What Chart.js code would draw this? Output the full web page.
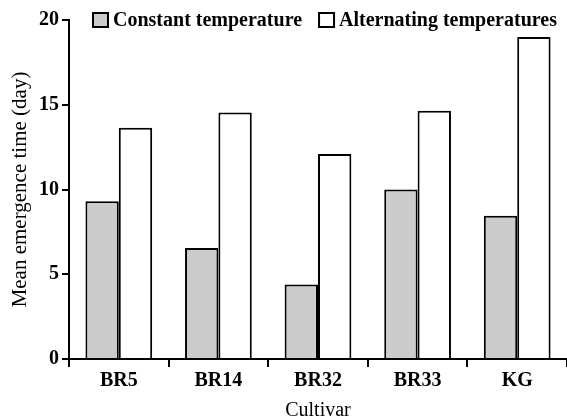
<!DOCTYPE html>
<html><head><meta charset="utf-8">
<script src="https://cdn.jsdelivr.net/npm/chart.js@4.4.0/dist/chart.umd.min.js"></script>
<style>html,body{margin:0;padding:0;background:#fff}</style>
</head><body>
<canvas id="c" width="567" height="419"></canvas>
<script>
const categories = ['BR5', 'BR14', 'BR32', 'BR33', 'KG'];
const seriesNames = ['Constant temperature', 'Alternating temperatures'];
const constantTemp = [9.3, 6.55, 4.4, 10.0, 8.45];
const alternatingTemp = [13.65, 14.55, 12.1, 14.65, 19.0];
const yTickValues = [0, 5, 10, 15, 20];

const FONT = 'Liberation Serif';

const legendPlugin = {
  id: 'customLegend',
  afterDraw(chart) {
    const ctx = chart.ctx;
    ctx.save();
    ctx.font = 'bold 20px "' + FONT + '"';
    ctx.textBaseline = 'middle';
    let x = 93; const y = 20;
    chart.data.datasets.forEach(ds => {
      ctx.fillStyle = ds.backgroundColor;
      ctx.fillRect(x, y - 7, 15, 14);
      ctx.lineWidth = 2; ctx.strokeStyle = '#000';
      ctx.strokeRect(x, y - 7, 15, 14);
      ctx.fillStyle = '#000';
      ctx.fillText(ds.label, x + 20, y + 1);
      x += 20 + ctx.measureText(ds.label).width + 17;
    });
    ctx.restore();
  }
};

new Chart(document.getElementById('c'), {
  type: 'bar',
  data: {
    labels: categories,
    datasets: [
      { label: seriesNames[0], data: constantTemp, backgroundColor: '#cccccc', borderColor: '#000', borderWidth: 2 },
      { label: seriesNames[1], data: alternatingTemp, backgroundColor: '#ffffff', borderColor: '#000', borderWidth: 2 }
    ]
  },
  options: {
    responsive: false,
    animation: false,
    layout: { padding: { top: 20, right: 0, left: 0, bottom: 0 } },
    datasets: { bar: { categoryPercentage: 0.67, barPercentage: 1.0 } },
    plugins: { legend: { display: false }, tooltip: { enabled: false } },
    scales: {
      x: {
        grid: { display: true, drawOnChartArea: false, drawTicks: true, tickLength: 8, color: '#000', lineWidth: 2, offset: true },
        border: { display: true, color: '#000', width: 2 },
        ticks: { color: '#000', font: { family: FONT, size: 20, weight: 'bold' }, padding: 2 },
        title: { display: true, text: 'Cultivar', color: '#000', font: { family: FONT, size: 20, lineHeight: 0.8 }, padding: { top: 0, bottom: 0 } },
        afterFit(s) { s.height = 60; }
      },
      y: {
        min: 0, max: 20,
        afterBuildTicks(s) { s.ticks = yTickValues.map(v => ({ value: v })); },
        grid: { display: true, drawOnChartArea: false, drawTicks: true, tickLength: 7, color: '#000', lineWidth: 2 },
        border: { display: true, color: '#000', width: 2 },
        ticks: { color: '#000', font: { family: FONT, size: 20, weight: 'bold' }, padding: 3 },
        title: { display: true, text: 'Mean emergence time (day)', color: '#000', font: { family: FONT, size: 21 }, padding: { top: 8, bottom: 0 } },
        afterFit(s) { s.width = 69; }
      }
    }
  },
  plugins: [legendPlugin]
});
</script>
</body></html>
